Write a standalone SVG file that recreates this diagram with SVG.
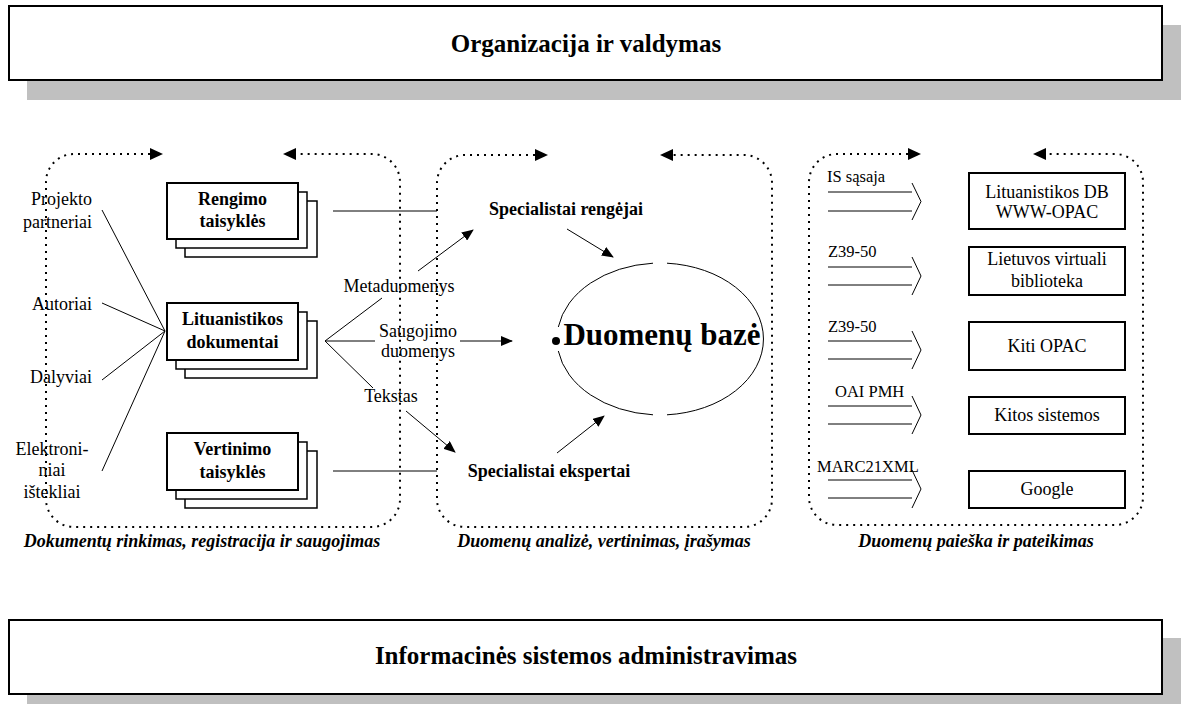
<svg xmlns="http://www.w3.org/2000/svg" width="1182" height="704" viewBox="0 0 1182 704">
<style>
text{font-family:"Liberation Serif","Times New Roman",serif;fill:#000}
.t18{font-size:18px}
.b18{font-size:18px;font-weight:bold}
.bi{font-size:18px;font-weight:bold;font-style:italic}
.title{font-size:25px;font-weight:bold}
.arl{font-size:16.5px}
.dot{fill:none;stroke:#000;stroke-width:2;stroke-dasharray:2 5}
.ln{stroke:#000;stroke-width:1;fill:none}
.doc{fill:#fff;stroke:#000;stroke-width:1.5}
.docf{fill:#fff;stroke:#000;stroke-width:2}
.box{fill:#fff;stroke:#000;stroke-width:2}
.shadow{fill:#c0c0c0}
</style>
<defs>
<marker id="ah" markerWidth="12" markerHeight="10" refX="11" refY="5" orient="auto" markerUnits="userSpaceOnUse">
<path d="M0,0 L12,5 L0,10 z" fill="#000"/>
</marker>
</defs>
<rect width="1182" height="704" fill="#fff"/>

<g id="org">
<rect class="shadow" x="27" y="25" width="1154" height="75"/>
<rect class="box" x="9" y="6" width="1153" height="74"/>
<text class="title" x="586" y="52" text-anchor="middle">Organizacija ir valdymas</text>
</g>

<g id="admin">
<rect class="shadow" x="27" y="638" width="1154" height="66"/>
<rect class="box" x="9" y="620" width="1153" height="74"/>
<text class="title" x="586" y="664" text-anchor="middle">Informacinės sistemos administravimas</text>
</g>

<g id="group-left">
<path class="dot" d="M150,154 H74 A28,28 0 0 0 46,182 V499 A28,28 0 0 0 74,527 H372 A28,28 0 0 0 400,499 V182 A28,28 0 0 0 372,154 H296"/>
<polygon points="150,148 163,154 150,160" fill="#000"/>
<polygon points="296,148 283,154 296,160" fill="#000"/>
<text class="bi" x="202" y="547" text-anchor="middle">Dokumentų rinkimas, registracija ir saugojimas</text>
</g>

<g id="group-mid">
<path class="dot" d="M535,155 H465 A28,28 0 0 0 437,183 V499 A28,28 0 0 0 465,527 H744 A28,28 0 0 0 772,499 V183 A28,28 0 0 0 744,155 H673"/>
<polygon points="535,149 548,155 535,161" fill="#000"/>
<polygon points="673,149 660,155 673,161" fill="#000"/>
<text class="bi" x="604" y="547" text-anchor="middle">Duomenų analizė, vertinimas, įrašymas</text>
</g>

<g id="group-right">
<path class="dot" d="M908,154 H837 A28,28 0 0 0 809,182 V497 A28,28 0 0 0 837,525 H1115 A28,28 0 0 0 1143,497 V182 A28,28 0 0 0 1115,154 H1046"/>
<polygon points="908,148 921,154 908,160" fill="#000"/>
<polygon points="1046,148 1033,154 1046,160" fill="#000"/>
<text class="bi" x="976" y="547" text-anchor="middle">Duomenų paieška ir pateikimas</text>
</g>

<g id="sources">
<text class="t18" x="92" y="205" text-anchor="end">Projekto</text>
<text class="t18" x="92" y="228" text-anchor="end">partneriai</text>
<text class="t18" x="92" y="310" text-anchor="end">Autoriai</text>
<text class="t18" x="92" y="383" text-anchor="end">Dalyviai</text>
<text class="t18" x="52" y="455" text-anchor="middle">Elektroni-</text>
<text class="t18" x="52" y="476" text-anchor="middle">niai</text>
<text class="t18" x="52" y="498" text-anchor="middle">ištekliai</text>
</g>

<g id="rengimo">
<rect class="doc" x="185" y="201" width="132" height="56"/>
<rect class="doc" x="176" y="192" width="131" height="56"/>
<rect class="docf" x="167" y="183" width="131" height="56"/>
<text class="b18" x="232.5" y="205" text-anchor="middle">Rengimo</text>
<text class="b18" x="232.5" y="227" text-anchor="middle">taisyklės</text>
</g>

<g id="lituanistikos">
<rect class="doc" x="185" y="321" width="132" height="57"/>
<rect class="doc" x="176" y="312" width="131" height="57"/>
<rect class="docf" x="167" y="303" width="131" height="57"/>
<text class="b18" x="232.5" y="325" text-anchor="middle">Lituanistikos</text>
<text class="b18" x="232.5" y="348" text-anchor="middle">dokumentai</text>
</g>

<g id="vertinimo">
<rect class="doc" x="185" y="451" width="132" height="57"/>
<rect class="doc" x="176" y="442" width="131" height="57"/>
<rect class="docf" x="167" y="433" width="131" height="57"/>
<text class="b18" x="232.5" y="455" text-anchor="middle">Vertinimo</text>
<text class="b18" x="232.5" y="478" text-anchor="middle">taisyklės</text>
</g>

<g id="rengejai">
<text class="b18" x="566" y="215" text-anchor="middle">Specialistai rengėjai</text>
</g>
<g id="ekspertai">
<text class="b18" x="549" y="477" text-anchor="middle">Specialistai ekspertai</text>
</g>

<g id="duomenu-baze">
<path class="ln" d="M667,263.2 A104,76 0 0 1 667,414.8"/>
<path class="ln" d="M653,414.8 A104,76 0 0 1 558.3,351"/>
<path class="ln" d="M558.3,327 A104,76 0 0 1 653,263.2"/>
<circle cx="556" cy="341" r="4" fill="#000"/>
<text x="662" y="345" text-anchor="middle" style="font-size:31px;font-weight:bold">Duomenų bazė</text>
</g>

<g id="flow-labels">
<text class="t18" x="399" y="292" text-anchor="middle">Metaduomenys</text>
<text class="t18" x="418" y="337" text-anchor="middle">Saugojimo</text>
<text class="t18" x="418" y="357" text-anchor="middle">duomenys</text>
<text class="t18" x="391" y="402" text-anchor="middle">Tekstas</text>
</g>

<g id="targets">
<rect class="box" x="969" y="173" width="156" height="56"/>
<text class="t18" x="1047" y="198" text-anchor="middle">Lituanistikos DB</text>
<text class="t18" x="1047" y="218" text-anchor="middle">WWW-OPAC</text>
<rect class="box" x="969" y="247" width="156" height="48"/>
<text class="t18" x="1047" y="265" text-anchor="middle">Lietuvos virtuali</text>
<text class="t18" x="1047" y="287" text-anchor="middle">biblioteka</text>
<rect class="box" x="969" y="322" width="156" height="48"/>
<text class="t18" x="1047" y="352" text-anchor="middle">Kiti OPAC</text>
<rect class="box" x="969" y="397" width="156" height="37"/>
<text class="t18" x="1047" y="421" text-anchor="middle">Kitos sistemos</text>
<rect class="box" x="969" y="471" width="156" height="37"/>
<text class="t18" x="1047" y="495" text-anchor="middle">Google</text>
</g>

<g id="connectors">
<line class="ln" x1="102" y1="210" x2="165" y2="331"/>
<line class="ln" x1="102" y1="303" x2="165" y2="331"/>
<line class="ln" x1="102" y1="380" x2="165" y2="331"/>
<line class="ln" x1="102" y1="471" x2="165" y2="331"/>
<line class="ln" x1="325" y1="341" x2="382" y2="298"/>
<line class="ln" x1="325" y1="341" x2="375" y2="341"/>
<line class="ln" x1="325" y1="341" x2="373" y2="388"/>
<line class="ln" x1="333" y1="211" x2="437" y2="211"/>
<line class="ln" x1="333" y1="471" x2="437" y2="471"/>
<line class="ln" x1="418" y1="271" x2="473" y2="230" marker-end="url(#ah)"/>
<line class="ln" x1="460" y1="341" x2="512" y2="341" marker-end="url(#ah)"/>
<line class="ln" x1="406" y1="411" x2="455" y2="452" marker-end="url(#ah)"/>
<line class="ln" x1="567" y1="229" x2="613" y2="257" marker-end="url(#ah)"/>
<line class="ln" x1="557" y1="453" x2="604" y2="416" marker-end="url(#ah)"/>
<path class="ln" d="M828,192 H912 M828,211 H912 M912,183 L921,201.5 L912,220"/>
<path class="ln" d="M828,267 H912 M828,285 H912 M912,257 L921,276 L912,295"/>
<path class="ln" d="M828,341 H912 M828,359 H912 M912,331 L921,350 L912,369"/>
<path class="ln" d="M828,406 H912 M828,424 H912 M912,396 L921,415 L912,434"/>
<path class="ln" d="M828,480 H912 M828,498 H912 M912,470 L921,489 L912,508"/>
<text class="arl" x="827" y="182">IS sąsaja</text>
<text class="arl" x="828" y="257">Z39-50</text>
<text class="arl" x="828" y="332">Z39-50</text>
<text class="arl" x="835" y="397">OAI PMH</text>
<text class="arl" x="817" y="472">MARC21XML</text>
</g>
</svg>
